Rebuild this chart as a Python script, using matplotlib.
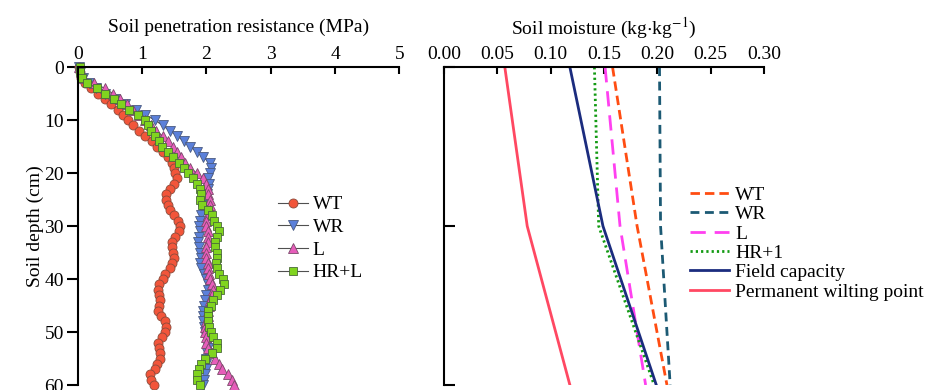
import numpy as np
import matplotlib
matplotlib.use('Agg')
import matplotlib.pyplot as plt

plt.rcParams['font.family'] = ['Liberation Serif', 'DejaVu Serif']
plt.rcParams['mathtext.fontset'] = 'stix'

# depth (cm), 1 cm steps
depth = list(range(0, 61))

# soil penetration resistance (MPa)
wt = [0.02, 0.03, 0.05, 0.12, 0.20, 0.32, 0.43, 0.52, 0.62, 0.70,
      0.78, 0.86, 0.95, 1.05, 1.15, 1.24, 1.32, 1.40, 1.46, 1.50,
      1.52, 1.54, 1.50, 1.44, 1.38, 1.38, 1.41, 1.44, 1.50, 1.56,
      1.59, 1.58, 1.52, 1.46, 1.46, 1.48, 1.49, 1.47, 1.44, 1.36,
      1.32, 1.27, 1.25, 1.26, 1.28, 1.26, 1.25, 1.30, 1.36, 1.37,
      1.35, 1.31, 1.25, 1.26, 1.28, 1.28, 1.24, 1.20, 1.13, 1.14, 1.18]
wr = [0.02, 0.04, 0.08, 0.17, 0.28, 0.42, 0.58, 0.73, 0.90, 1.05,
      1.20, 1.32, 1.43, 1.55, 1.65, 1.75, 1.85, 1.95, 2.05, 2.07,
      2.05, 2.03, 2.04, 2.03, 2.01, 2.00, 1.97, 1.94, 1.92, 1.90,
      1.89, 1.90, 1.88, 1.87, 1.88, 1.90, 1.91, 1.90, 1.92, 1.97,
      2.00, 2.02, 2.03, 2.00, 1.98, 1.96, 1.95, 1.95, 1.95, 1.97,
      1.98, 2.00, 2.03, 2.03, 2.01, 2.00, 2.00, 1.99, 1.98, 1.96, 1.95]
l = [0.02, 0.05, 0.10, 0.25, 0.42, 0.55, 0.66, 0.76, 0.86, 0.96,
     1.05, 1.14, 1.22, 1.32, 1.41, 1.48, 1.54, 1.60, 1.67, 1.75,
     1.85, 1.95, 2.00, 2.02, 2.03, 2.05, 2.06, 2.05, 2.03, 2.00,
     2.00, 2.02, 2.03, 2.02, 2.00, 1.99, 2.00, 2.02, 2.03, 2.04,
     2.06, 2.08, 2.10, 2.08, 2.05, 2.04, 2.03, 2.03, 2.00, 1.98,
     1.98, 1.99, 2.00, 2.03, 2.08, 2.13, 2.19, 2.25, 2.33, 2.40, 2.43]
hrl = [0.03, 0.03, 0.06, 0.15, 0.30, 0.42, 0.56, 0.68, 0.80, 0.93,
       1.04, 1.10, 1.14, 1.20, 1.26, 1.31, 1.40, 1.48, 1.57, 1.65,
       1.72, 1.79, 1.85, 1.90, 1.92, 1.90, 1.93, 2.02, 2.08, 2.12,
       2.16, 2.19, 2.17, 2.13, 2.14, 2.16, 2.16, 2.15, 2.17, 2.20,
       2.26, 2.27, 2.21, 2.16, 2.11, 2.07, 2.03, 2.02, 2.03, 2.04,
       2.07, 2.10, 2.16, 2.16, 2.09, 1.98, 1.92, 1.88, 1.85, 1.86, 1.90]

# soil moisture (kg/kg) at 0, 30, 60 cm
m_depth = [0, 30, 60]
m_wt = [0.158, 0.181, 0.209]
m_wr = [0.202, 0.203, 0.212]
m_l = [0.151, 0.165, 0.189]
m_hr1 = [0.141, 0.145, 0.197]
m_fc = [0.118, 0.149, 0.199]
m_pwp = [0.057, 0.078, 0.118]

fs = 14

fig = plt.figure(figsize=(9.33, 3.9), dpi=100)
ax1 = fig.add_axes([0.0833, 0.0128, 0.3447, 0.815])
ax2 = fig.add_axes([0.4759, 0.0128, 0.343, 0.815])

edge = '#505050'
ax1.plot(wt, depth, '-o', color=edge, lw=0.8, ms=6.5, mfc='#F2553A', mec='#8a4a3a', mew=0.6, label='WT', clip_on=False)
ax1.plot(wr, depth, '-v', color=edge, lw=0.8, ms=7, mfc='#5B80DA', mec='#4a5a80', mew=0.6, label='WR', clip_on=False)
ax1.plot(l, depth, '-^', color=edge, lw=0.8, ms=7, mfc='#E65DBA', mec='#7a4a6a', mew=0.6, label='L', clip_on=False)
ax1.plot(hrl, depth, '-s', color=edge, lw=0.8, ms=6, mfc='#80D41F', mec='#4a6a3a', mew=0.6, label='HR+L', clip_on=False)

ax1.set_xlim(0, 5)
ax1.set_ylim(60, 0)
ax1.set_xticks([0, 1, 2, 3, 4, 5])
ax1.set_yticks([0, 10, 20, 30, 40, 50, 60])
ax1.set_xlabel('Soil penetration resistance (MPa)', fontsize=fs, labelpad=10)
ax1.set_ylabel('Soil depth (cm)', fontsize=fs, labelpad=0)
ax1.legend(loc='upper left', bbox_to_anchor=(0.6, 0.62), frameon=False, fontsize=fs,
           handlelength=1.5, handletextpad=0.25, labelspacing=0.26, borderaxespad=0)

ax2.plot(m_wt, m_depth, color='#FF4D12', lw=2.0, dashes=(3.4, 1.8), label='WT')
ax2.plot(m_wr, m_depth, color='#1C5A74', lw=2.0, dashes=(3.2, 2.0), label='WR')
ax2.plot(m_l, m_depth, color='#FF40F0', lw=2.0, dashes=(5.5, 3.2), label='L')
ax2.plot(m_hr1, m_depth, color='#129A12', lw=2.0, dashes=(0.8, 1.1), label='HR+1')
ax2.plot(m_fc, m_depth, color='#1B2C7E', lw=2.0, label='Field capacity')
ax2.plot(m_pwp, m_depth, color='#FF4862', lw=2.0, label='Permanent wilting point')

ax2.set_xlim(0, 0.3)
ax2.set_ylim(60, 0)
ax2.set_xticks([0, 0.05, 0.1, 0.15, 0.2, 0.25, 0.3])
ax2.set_xticklabels(['0.00', '0.05', '0.10', '0.15', '0.20', '0.25', '0.30'])
ax2.set_yticks([0, 30, 60])
ax2.set_yticklabels([])
ax2.set_xlabel(r'Soil moisture (kg$\cdot$kg$^{-1}$)', fontsize=fs, labelpad=8)
ax2.legend(loc='upper left', bbox_to_anchor=(0.745, 0.65), frameon=False, fontsize=fs,
           handlelength=2.0, handletextpad=0.3, labelspacing=0.09, borderaxespad=0)

for ax in (ax1, ax2):
    ax.xaxis.set_label_position('top')
    ax.xaxis.tick_top()
    ax.spines['right'].set_visible(False)
    ax.spines['bottom'].set_visible(False)
    ax.spines['top'].set_linewidth(1.5)
    ax.spines['left'].set_linewidth(1.5)
    ax.tick_params(axis='x', direction='in', length=5, width=1.5, labelsize=fs, pad=3)
    ax.set_facecolor('none')

ax1.tick_params(axis='y', direction='out', length=8, width=1.5, labelsize=fs, pad=2)
ax2.tick_params(axis='y', direction='in', length=8, width=1.5, labelsize=fs)

fig.savefig('out.png', dpi=100)
